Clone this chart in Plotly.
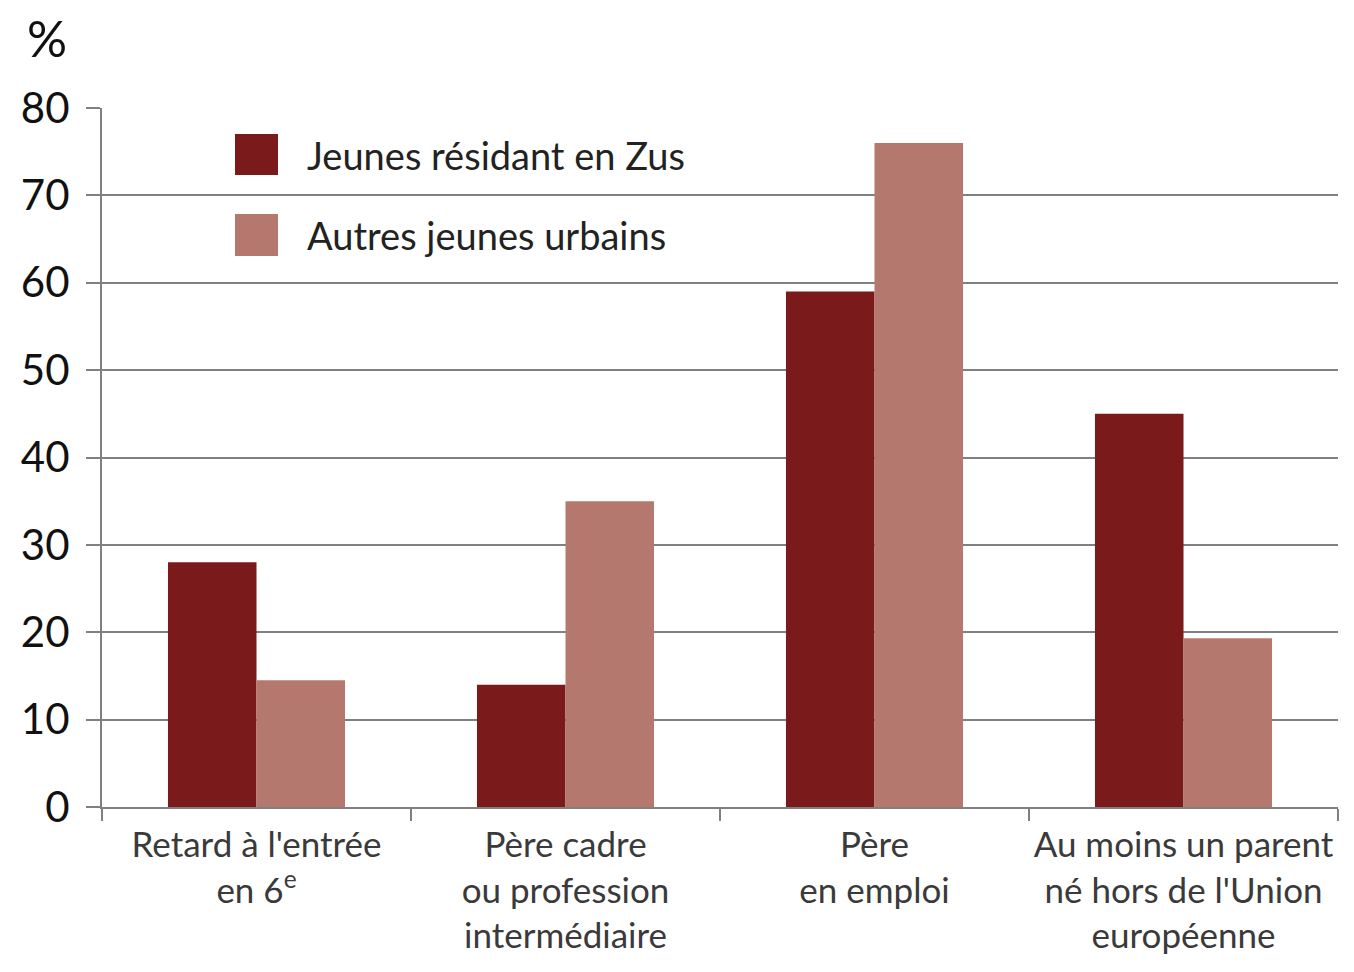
import plotly.graph_objects as go

categories = [
    "Retard à l'entrée<br>en 6<sup>e</sup>",
    "Père cadre<br>ou profession<br>intermédiaire",
    "Père<br>en emploi",
    "Au moins un parent<br>né hors de l'Union<br>européenne",
]
series_names = ["Jeunes résidant en Zus", "Autres jeunes urbains"]
zus_values = [28, 14, 59, 45]
autres_values = [14.5, 35, 76, 19.3]
y_ticks = [0, 10, 20, 30, 40, 50, 60, 70, 80]

dark = "#7A1A1A"
light = "#B5786E"
grid = "#808080"
FONT = "Lato"

fig = go.Figure()
fig.add_trace(go.Bar(x=categories, y=zus_values, name=series_names[0],
                     marker=dict(color=dark, line=dict(width=0)), showlegend=False))
fig.add_trace(go.Bar(x=categories, y=autres_values, name=series_names[1],
                     marker=dict(color=light, line=dict(width=0)), showlegend=False))

fig.update_layout(
    width=1346, height=964,
    margin=dict(l=94, r=16, t=100, b=165),
    paper_bgcolor="white", plot_bgcolor="white",
    barmode="group", bargap=0.427, bargroupgap=0,
    font=dict(family=FONT, size=36, color="#222222"),
    xaxis=dict(type="category", tickson="boundaries", ticks="outside",
               ticklen=12, tickwidth=2, tickcolor=grid, tickangle=0,
               automargin=False, ticklabelstandoff=6,
               showline=True, linecolor=grid, linewidth=2,
               showgrid=False, tickfont=dict(size=35, color="#3a3a3a")),
    yaxis=dict(range=[0, 80], tickvals=y_ticks, ticks="outside",
               ticklen=14, tickwidth=2, tickcolor=grid, automargin=False,
               ticklabelstandoff=8,
               showline=True, linecolor=grid, linewidth=2,
               showgrid=True, gridcolor=grid, gridwidth=2,
               zeroline=False, tickfont=dict(size=42, color="#111111")),
)

# "%" unit label
fig.add_annotation(text="%", xref="paper", yref="paper", x=-0.062, y=1.10,
                   xanchor="left", yanchor="middle", showarrow=False,
                   font=dict(size=50, color="#111111"))

# manual legend with large square swatches
legend_items = [(series_names[0], dark, 0.9041, 0.9628),
                (series_names[1], light, 0.7883, 0.8484)]
for name, col, y0, y1 in legend_items:
    fig.add_shape(type="rect", xref="paper", yref="paper",
                  x0=0.1076, x1=0.1424, y0=y0, y1=y1,
                  fillcolor=col, line=dict(width=0))
    fig.add_annotation(text=name, xref="paper", yref="paper",
                       x=0.1642, y=(y0 + y1) / 2, xanchor="left", yanchor="middle",
                       showarrow=False, font=dict(size=38, color="#222222"))

fig.write_html("out.html")
